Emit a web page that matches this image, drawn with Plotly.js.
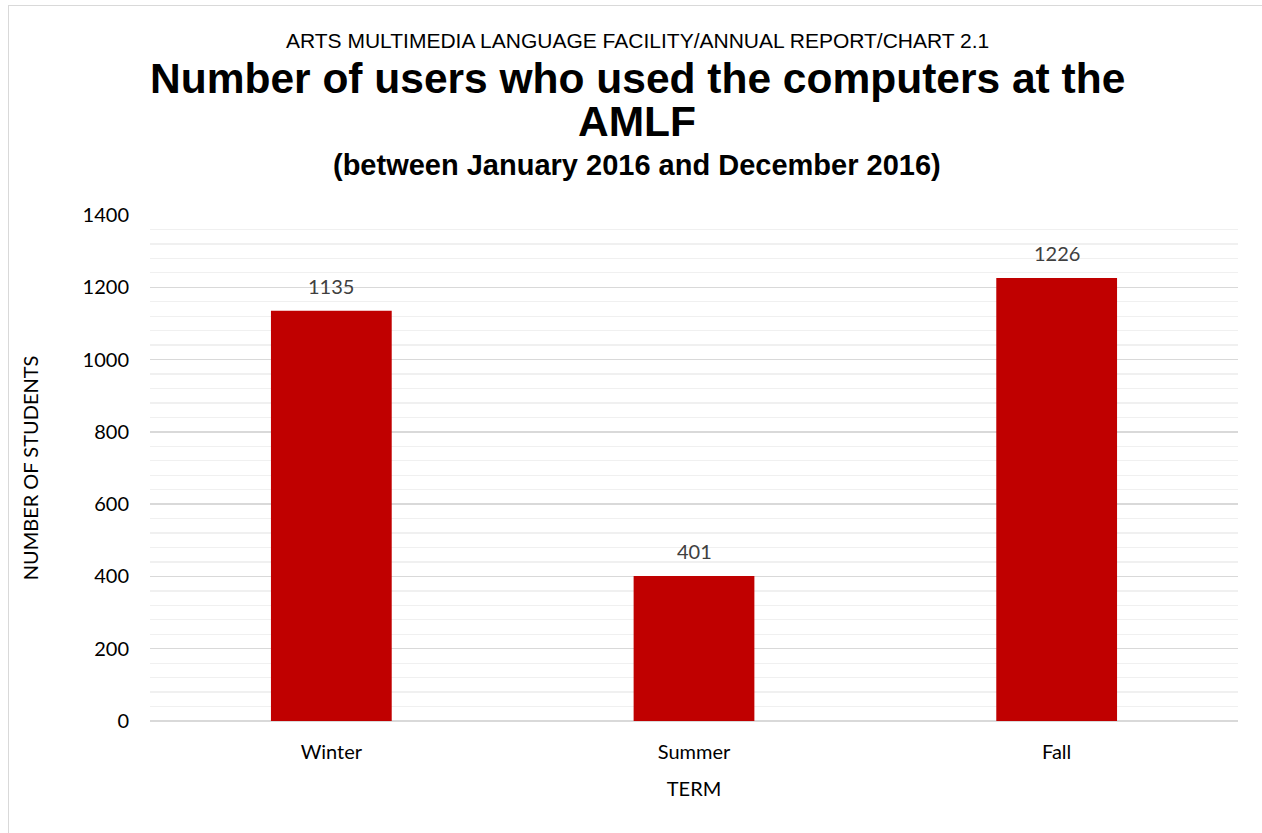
<!DOCTYPE html>
<html><head><meta charset="utf-8">
<script src="https://cdn.plot.ly/plotly-3.0.1.min.js"></script>
<style>
html,body{margin:0;padding:0;overflow:hidden;background:#fff;}
#wrap{position:relative;width:1262px;height:833px;}
#frame{position:absolute;left:8px;top:5px;width:1300px;height:900px;border:1px solid #d9d9d9;pointer-events:none;}
#chart{position:absolute;left:0;top:0;width:1262px;height:833px;}
</style></head>
<body><div id="wrap"><div id="chart"></div><div id="frame"></div></div>
<script>
const categories = ["Winter", "Summer", "Fall"];
const users = [1135, 401, 1226];
const yTicks = [0, 200, 400, 600, 800, 1000, 1200, 1400];

const tickFont = {family: "Lato, 'Open Sans', sans-serif", size: 20, color: "#000"};

const trace = {
  type: "bar",
  x: categories,
  y: users,
  marker: {color: "#c00000"},
  hoverinfo: "none"
};

const dataLabels = categories.map((c, i) => ({
  x: c, y: users[i], xref: "x", yref: "y",
  text: String(users[i]), showarrow: false,
  yanchor: "middle", yshift: 25,
  font: {family: "Lato, 'Open Sans', sans-serif", size: 20, color: "#404040"}
}));

const layout = {
  width: 1262, height: 833,
  margin: {l: 150, r: 24, t: 215, b: 112},
  paper_bgcolor: "rgba(0,0,0,0)",
  plot_bgcolor: "#fff",
  bargap: 0.667,
  showlegend: false,
  xaxis: {
    type: "category",
    tickfont: tickFont,
    ticks: "",
    ticklabelstandoff: 17,
    showline: false,
    showgrid: false,
    title: {text: "TERM", font: tickFont, standoff: 19}
  },
  yaxis: {
    range: [0, 1400],
    tickvals: yTicks,
    ticktext: yTicks.map(String),
    tickfont: tickFont,
    ticks: "",
    ticklabelstandoff: 20,
    showline: false,
    gridcolor: "#d9d9d9",
    gridwidth: 1.3,
    zeroline: true,
    zerolinecolor: "#d9d9d9",
    zerolinewidth: 1.3,
    minor: {dtick: 40, showgrid: true, gridcolor: "#f0f0f0", gridwidth: 1.3},
    title: {text: "NUMBER OF STUDENTS", font: tickFont, standoff: 38}
  },
  annotations: dataLabels.concat([
    {text: "ARTS MULTIMEDIA LANGUAGE FACILITY/ANNUAL REPORT/CHART 2.1", xref: "paper", yref: "paper",
     x: 0.448, y: 1 + (215-40)/506, xanchor: "center", yanchor: "middle", showarrow: false,
     font: {family: "Liberation Sans, Arial, sans-serif", size: 21, color: "#000"}},
    {text: "<b>Number of users who used the computers at the</b>", xref: "paper", yref: "paper",
     x: 0.448, y: 1 + (215-78)/506, xanchor: "center", yanchor: "middle", showarrow: false,
     font: {family: "Liberation Sans, Arial, sans-serif", size: 42.5, color: "#000"}},
    {text: "<b>AMLF</b>", xref: "paper", yref: "paper",
     x: 0.448, y: 1 + (215-122)/506, xanchor: "center", yanchor: "middle", showarrow: false,
     font: {family: "Liberation Sans, Arial, sans-serif", size: 42.5, color: "#000"}},
    {text: "<b>(between January 2016 and December 2016)</b>", xref: "paper", yref: "paper",
     x: 0.448, y: 1 + (215-165)/506, xanchor: "center", yanchor: "middle", showarrow: false,
     font: {family: "Liberation Sans, Arial, sans-serif", size: 29, color: "#000"}}
  ])
};

Plotly.newPlot("chart", [trace], layout, {displayModeBar: false, staticPlot: true});
</script></body></html>
